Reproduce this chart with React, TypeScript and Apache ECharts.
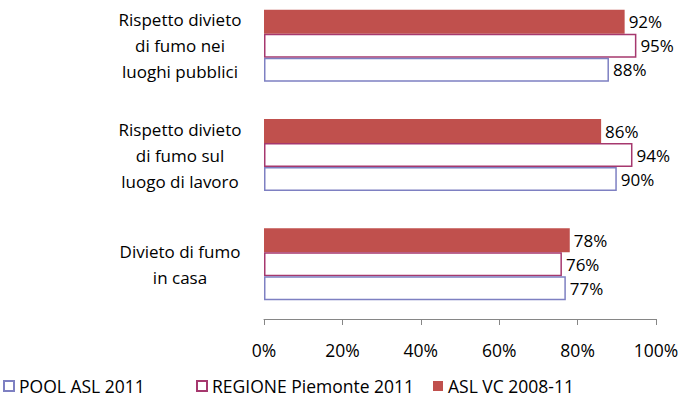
import React, { useEffect, useRef } from "react";
import * as echarts from "echarts";

const categories = [
  "Divieto di fumo\nin casa",
  "Rispetto divieto\ndi fumo sul\nluogo di lavoro",
  "Rispetto divieto\ndi fumo nei\nluoghi pubblici",
];
const poolAsl2011 = [77, 90, 88];
const regione2011 = [76, 94, 95];
const aslVc = [78, 86, 92];
const xTicks = [0, 20, 40, 60, 80, 100];

const FONT = "'Open Sans', Lato, sans-serif";

export default function App() {
  const ref = useRef<HTMLDivElement>(null);
  useEffect(() => {
    const chart = echarts.init(ref.current!, null, { renderer: "svg" });
    const label = {
      show: true,
      position: "right" as const,
      distance: 4,
      formatter: (p: any) => p.value + "%",
      color: "#000",
      fontSize: 17,
      fontFamily: FONT,
    };
    const legendBase = {
      top: 386,
      padding: 0,
      itemWidth: 10,
      itemHeight: 10,
      textStyle: { color: "#000", fontSize: 17.5, fontFamily: FONT },
    };
    chart.setOption({
      animation: false,
      grid: { left: 264, right: 40, top: 0, height: 328 },
      xAxis: {
        type: "value",
        min: 0,
        max: 100,
        interval: 20,
        axisLine: { show: true, lineStyle: { color: "#868686" } },
        axisTick: { show: true, length: 6, inside: false, lineStyle: { color: "#868686" } },
        splitLine: { show: false },
        axisLabel: {
          formatter: (v: number) => (xTicks.includes(v) ? v + "%" : ""),
          color: "#000",
          fontSize: 17.5,
          fontFamily: FONT,
          margin: 22,
        },
      },
      yAxis: {
        type: "category",
        data: categories,
        axisLine: { show: false },
        axisTick: { show: false },
        axisLabel: {
          align: "center",
          margin: 84,
          color: "#000",
          fontSize: 17,
          lineHeight: 26,
          fontFamily: FONT,
        },
      },
      legend: [
        { ...legendBase, left: 3, data: [{ name: "POOL ASL 2011", icon: "rect" }] },
        { ...legendBase, left: 196, data: [{ name: "REGIONE Piemonte 2011", icon: "rect" }] },
        { ...legendBase, left: 433, data: [{ name: "ASL VC 2008-11", icon: "rect" }] },
      ],
      series: [
        {
          name: "ASL VC 2008-11",
          type: "bar",
          data: aslVc,
          barWidth: 24,
          barGap: "0%",
          itemStyle: { color: "#C0504D" },
          label,
        },
        {
          name: "REGIONE Piemonte 2011",
          type: "bar",
          data: regione2011,
          barWidth: 24,
          barGap: "0%",
          itemStyle: { color: "#fff", borderColor: "#A6386E", borderWidth: 1.5 },
          label,
        },
        {
          name: "POOL ASL 2011",
          type: "bar",
          data: poolAsl2011,
          barWidth: 24,
          barGap: "0%",
          itemStyle: { color: "#fff", borderColor: "#7E80C2", borderWidth: 1.5 },
          label,
        },
      ],
    });
    return () => chart.dispose();
  }, []);
  return <div ref={ref} style={{ width: 696, height: 409, position: "absolute", left: 0, top: -9 }} />;
}
